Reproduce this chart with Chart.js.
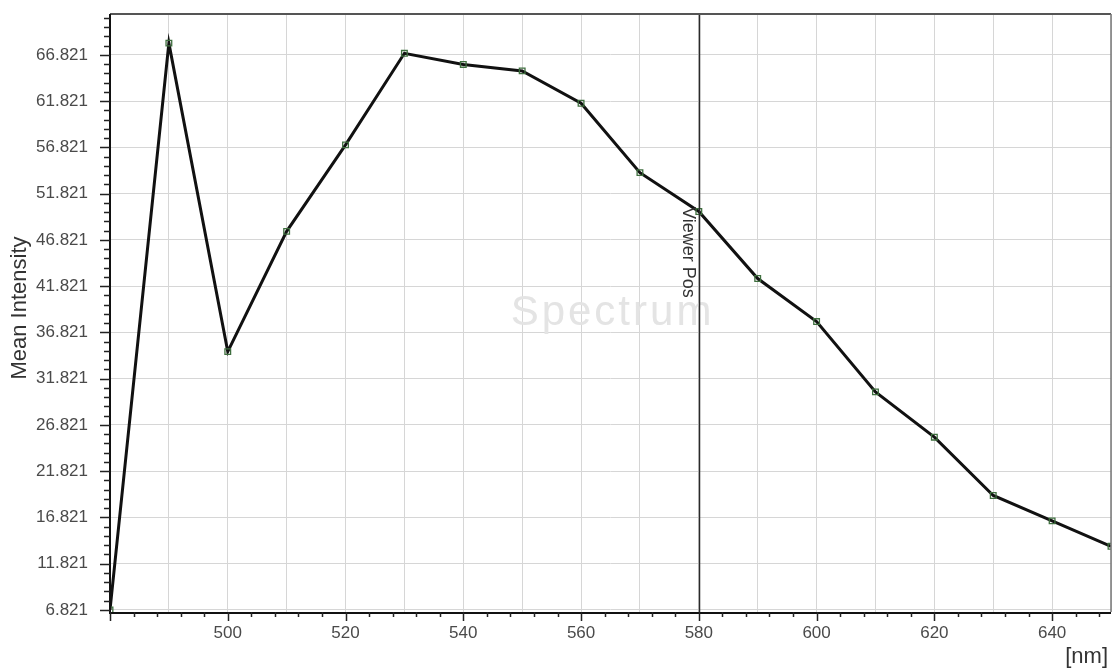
<!DOCTYPE html>
<html>
<head>
<meta charset="utf-8">
<title>Spectrum</title>
<script src="https://cdn.jsdelivr.net/npm/chart.js@4.4.1/dist/chart.umd.min.js"></script>
<style>
  html, body { margin: 0; padding: 0; background: #fff; }
  #wrap { width: 1112px; height: 671px; }
</style>
</head>
<body>
<div id="wrap"><canvas id="chartSpectrum" width="1112" height="671"></canvas></div>
<script>
// wavelength [nm] and mean intensity per band
const wavelengths = [480, 490, 500, 510, 520, 530, 540, 550, 560, 570, 580, 590, 600, 610, 620, 630, 640, 650];
const meanIntensity = [6.821, 68.1, 34.75, 47.75, 57.1, 67.0, 65.8, 65.1, 61.6, 54.1, 49.9, 42.65, 38.0, 30.4, 25.5, 19.2, 16.45, 13.7];

// axis ticks
const yTickValues = [6.821, 11.821, 16.821, 21.821, 26.821, 31.821, 36.821, 41.821, 46.821, 51.821, 56.821, 61.821, 66.821];
const xLabelValues = [500, 520, 540, 560, 580, 600, 620, 640];
const viewerPos = 580;

document.addEventListener('DOMContentLoaded', function() {
  const FONT = '"Liberation Sans", Arial, sans-serif';

  function noPadding(scale) {
    scale.paddingTop = 0;
    scale.paddingBottom = 0;
    scale.paddingLeft = 0;
    scale.paddingRight = 0;
  }

  // frame, minor ticks, viewer marker and captions
  const decorations = {
    id: 'decorations',
    beforeDatasetsDraw(chart) {
      const ctx = chart.ctx;
      const a = chart.chartArea;
      ctx.save();
      ctx.fillStyle = '#e4e4e4';
      ctx.font = '42px ' + FONT;
      ctx.letterSpacing = '3px';
      ctx.textAlign = 'center';
      ctx.textBaseline = 'middle';
      ctx.fillText('Spectrum', (a.left + a.right) / 2 + 2, (a.top + a.bottom) / 2);
      ctx.restore();
    },
    afterDraw(chart) {
      const ctx = chart.ctx;
      const a = chart.chartArea;
      const xs = chart.scales.x;
      const ys = chart.scales.y;
      ctx.save();

      // viewer position line
      const vx = Math.round(xs.getPixelForValue(viewerPos)) + 0.5;
      ctx.strokeStyle = '#2a2a2a';
      ctx.lineWidth = 1.5;
      ctx.beginPath();
      ctx.moveTo(vx, a.top);
      ctx.lineTo(vx, a.bottom);
      ctx.stroke();

      ctx.save();
      ctx.translate(vx - 17, a.top + 193);
      ctx.rotate(Math.PI / 2);
      ctx.fillStyle = '#333';
      ctx.font = '18px ' + FONT;
      ctx.textAlign = 'left';
      ctx.textBaseline = 'alphabetic';
      ctx.fillText('Viewer Pos', 0, 0);
      ctx.restore();

      // frame
      ctx.strokeStyle = '#555';
      ctx.lineWidth = 2;
      ctx.beginPath();
      ctx.moveTo(a.left, a.top);
      ctx.lineTo(a.right, a.top);
      ctx.stroke();
      ctx.strokeStyle = '#777';
      ctx.lineWidth = 1.5;
      ctx.beginPath();
      ctx.moveTo(a.right, a.top);
      ctx.lineTo(a.right, a.bottom);
      ctx.stroke();
      ctx.strokeStyle = '#111';
      ctx.lineWidth = 2;
      ctx.beginPath();
      ctx.moveTo(a.left, a.top);
      ctx.lineTo(a.left, a.bottom + 1);
      ctx.lineTo(a.right, a.bottom + 1);
      ctx.stroke();

      // tick marks
      ctx.strokeStyle = '#222';
      ctx.lineWidth = 1.5;
      ctx.beginPath();
      for (let v = xs.min; v <= xs.max; v += 4) {
        const px = Math.round(xs.getPixelForValue(v)) + 0.5;
        const len = (v % 20 === 0) ? 9 : 5;
        ctx.moveTo(px, a.bottom);
        ctx.lineTo(px, a.bottom + len);
      }
      for (let k = 0; yTickValues[0] + k <= ys.max; k++) {
        const py = Math.round(ys.getPixelForValue(yTickValues[0] + k)) + 0.5;
        const len = (k % 5 === 0) ? 10 : 6;
        ctx.moveTo(a.left, py);
        ctx.lineTo(a.left - len, py);
      }
      ctx.stroke();

      // axis captions
      ctx.fillStyle = '#333';
      ctx.font = '22px ' + FONT;
      ctx.save();
      ctx.translate(20, 308);
      ctx.rotate(-Math.PI / 2);
      ctx.textAlign = 'center';
      ctx.textBaseline = 'middle';
      ctx.fillText('Mean Intensity', 0, 0);
      ctx.restore();

      ctx.textAlign = 'right';
      ctx.textBaseline = 'alphabetic';
      ctx.fillText('[nm]', 1108, 663);
      ctx.restore();
    }
  };

  const ctx = document.getElementById('chartSpectrum').getContext('2d');
  new Chart(ctx, {
    type: 'line',
    data: {
      datasets: [{
        label: 'Mean Intensity',
        data: wavelengths.map((w, i) => ({ x: w, y: meanIntensity[i] })),
        borderColor: '#111',
        borderWidth: 3,
        tension: 0,
        pointStyle: 'rect',
        pointRadius: 4,
        pointBorderWidth: 1.3,
        pointBorderColor: '#3f6f3f',
        pointBackgroundColor: 'rgba(0,0,0,0)'
      }]
    },
    options: {
      responsive: false,
      animation: false,
      layout: { autoPadding: false, padding: { top: 14, right: 1, left: 0, bottom: 0 } },
      plugins: {
        legend: { display: false },
        tooltip: { enabled: false }
      },
      scales: {
        x: {
          type: 'linear',
          min: 480,
          max: 650,
          border: { display: false },
          grid: { color: '#d6d6d6', lineWidth: 1, drawTicks: false },
          ticks: {
            stepSize: 10,
            autoSkip: false,
            maxRotation: 0,
            padding: 11,
            color: '#4a4a4a',
            font: { family: FONT, size: 17 },
            callback: v => xLabelValues.includes(v) ? String(v) : ''
          },
          afterFit(scale) { scale.height = 59; noPadding(scale); }
        },
        y: {
          min: 6.6,
          max: 71.25,
          border: { display: false },
          grid: { color: '#d6d6d6', lineWidth: 1, drawTicks: false },
          afterBuildTicks(scale) {
            scale.ticks = yTickValues.map(v => ({ value: v }));
          },
          ticks: {
            padding: 22,
            color: '#4a4a4a',
            font: { family: FONT, size: 17 },
            callback: v => Number(v).toFixed(3)
          },
          afterFit(scale) { scale.width = 110; noPadding(scale); }
        }
      }
    },
    plugins: [decorations]
  });
});
</script>
</body>
</html>
